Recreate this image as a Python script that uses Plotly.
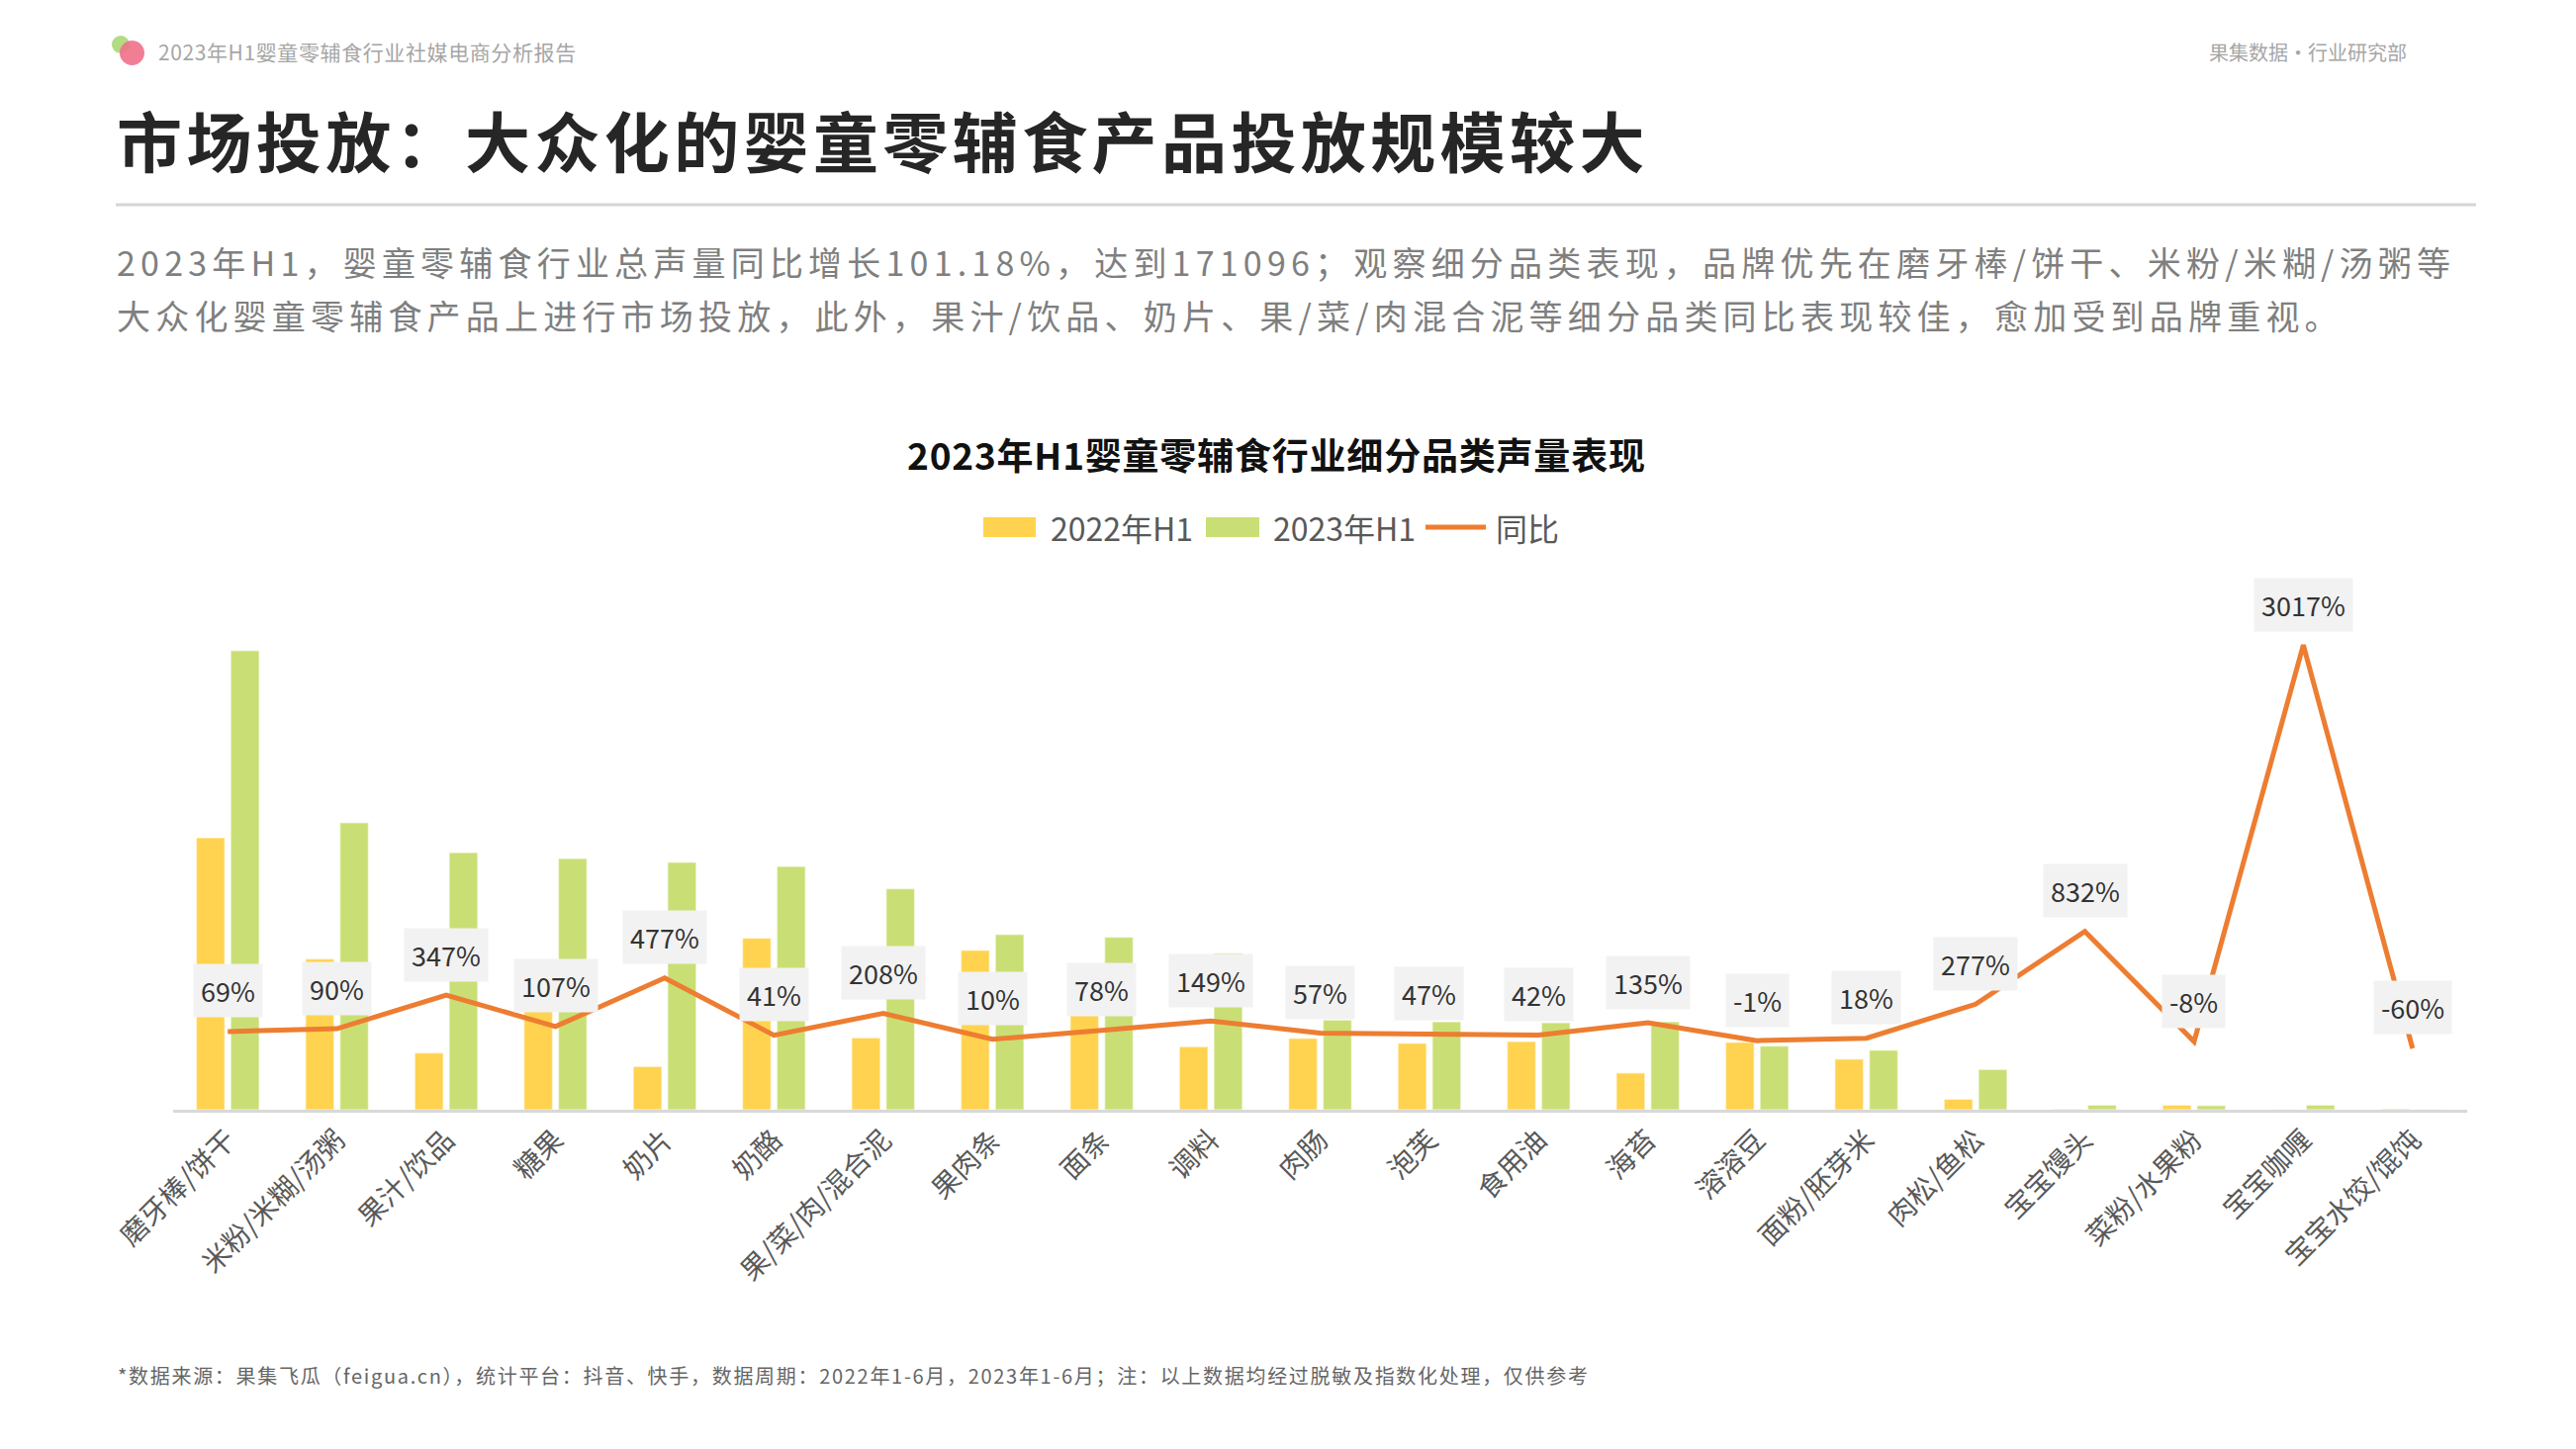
import plotly.graph_objects as go

categories = [
    "磨牙棒/饼干", "米粉/米糊/汤粥", "果汁/饮品", "糖果", "奶片", "奶酪",
    "果/菜/肉/混合泥", "果肉条", "面条", "调料", "肉肠", "泡芙", "食用油",
    "海苔", "溶溶豆", "面粉/胚芽米", "肉松/鱼松", "宝宝馒头", "菜粉/水果粉",
    "宝宝咖喱", "宝宝水饺/馄饨",
]
vol_2022 = [15510, 8610, 3250, 6920, 2465, 9795, 4100, 9100, 5525, 3590, 4080,
            3800, 3890, 2105, 3855, 2895, 600, 28, 265, 8, 40]
vol_2023 = [26190, 16375, 14665, 14325, 14120, 13875, 12615, 10000, 9850, 8930,
            5115, 5020, 4965, 5020, 3645, 3400, 2295, 265, 245, 265, 16]
yoy_pct = [69, 90, 347, 107, 477, 41, 208, 10, 78, 149, 57, 47, 42, 135, -1, 18,
           277, 832, -8, 3017, -60]

header_left = "2023年H1婴童零辅食行业社媒电商分析报告"
header_right = "果集数据·行业研究部"
page_title = "市场投放：大众化的婴童零辅食产品投放规模较大"
summary_lines = [
    "2023年H1，婴童零辅食行业总声量同比增长101.18%，达到171096；观察细分品类表现，品牌优先在磨牙棒/饼干、米粉/米糊/汤粥等",
    "大众化婴童零辅食产品上进行市场投放，此外，果汁/饮品、奶片、果/菜/肉混合泥等细分品类同比表现较佳，愈加受到品牌重视。",
]
chart_title = "2023年H1婴童零辅食行业细分品类声量表现"
series_names = ["2022年H1", "2023年H1", "同比"]
footnote = ("*数据来源：果集飞瓜（feigua.cn），统计平台：抖音、快手，数据周期：2022年1-6月，"
            "2023年1-6月；注：以上数据均经过脱敏及指数化处理，仅供参考")

YELLOW = "#FFD34F"
GREEN = "#C9DF75"
ORANGE = "#ED7D31"
FONT = "Noto Sans CJK SC"

W, H = 2604, 1465
ML, MR, MT, MB = 175, 110, 600, 343
PW, PH = W - ML - MR, H - MT - MB


def xp(px):
    return (px - ML) / PW


def yp(py):
    return (H - MB - py) / PH


def spaced(text, gap):
    return f'<span style="letter-spacing:{gap}px">{text}</span>'


fig = go.Figure()
fig.add_trace(go.Bar(x=categories, y=vol_2022, name=series_names[0],
                     marker={"color": YELLOW, "line": {"color": "rgba(255,255,255,0.5)", "width": 1.5}},
                     showlegend=False))
fig.add_trace(go.Bar(x=categories, y=vol_2023, name=series_names[1],
                     marker={"color": GREEN, "line": {"color": "rgba(255,255,255,0.5)", "width": 1.5}},
                     showlegend=False))
fig.add_trace(go.Scatter(x=categories, y=yoy_pct, name=series_names[2], yaxis="y2",
                         mode="lines", line={"color": ORANGE, "width": 5},
                         showlegend=False))

annotations = []
for cat, val in zip(categories, yoy_pct):
    annotations.append(dict(
        x=cat, y=val, xref="x", yref="y2", text=f"{val}%", showarrow=False,
        yshift=41, bgcolor="#F2F2F2", borderpad=7,
        font={"family": FONT, "size": 27, "color": "#333333"},
    ))

# page header
annotations += [
    dict(x=xp(158), y=yp(52), xref="paper", yref="paper", xanchor="left", yanchor="middle",
         text=spaced(header_left, 0.6), showarrow=False,
         font={"family": FONT, "size": 21, "color": "#A6A6A6"}),
    dict(x=xp(2435), y=yp(52), xref="paper", yref="paper", xanchor="right", yanchor="middle",
         text=header_right, showarrow=False, font={"family": FONT, "size": 20, "color": "#A6A6A6"}),
    dict(x=xp(116), y=yp(140), xref="paper", yref="paper", xanchor="left", yanchor="middle",
         text=spaced(page_title, 4.4), showarrow=False,
         font={"family": FONT, "size": 66, "color": "#262626", "weight": "bold"}),
    dict(x=xp(1290), y=yp(459), xref="paper", yref="paper", xanchor="center", yanchor="middle",
         text=spaced(chart_title, 0.8), showarrow=False,
         font={"family": FONT, "size": 37, "color": "#111111", "weight": "bold"}),
    dict(x=xp(117), y=yp(1390), xref="paper", yref="paper", xanchor="left", yanchor="middle",
         text=spaced(footnote, 1.7), showarrow=False, font={"family": FONT, "size": 20, "color": "#666666"}),
]
for i, line in enumerate(summary_lines):
    annotations.append(dict(
        x=xp(116), y=yp(265 + 53 * i), xref="paper", yref="paper", xanchor="left", yanchor="middle",
        text=spaced(line, 5.2), showarrow=False, font={"family": FONT, "size": 34, "color": "#7F7F7F"},
    ))

# hand-drawn legend
legend_text_x = [1060, 1285, 1510]
for name, tx in zip(series_names, legend_text_x):
    annotations.append(dict(
        x=xp(tx), y=yp(533), xref="paper", yref="paper", xanchor="left", yanchor="middle",
        text=name, showarrow=False, font={"family": FONT, "size": 32, "color": "#595959"},
    ))

shapes = [
    dict(type="line", xref="paper", yref="paper", x0=xp(117), x1=xp(2503), y0=yp(207), y1=yp(207),
         line={"color": "#D6D6D6", "width": 3}),
    dict(type="circle", xref="paper", yref="paper", x0=xp(113), x1=xp(131), y0=yp(36), y1=yp(54),
         fillcolor="#A5D56E", line={"width": 0}, opacity=0.85),
    dict(type="circle", xref="paper", yref="paper", x0=xp(121), x1=xp(146), y0=yp(41), y1=yp(66),
         fillcolor="#F07089", line={"width": 0}, opacity=0.9),
    dict(type="rect", xref="paper", yref="paper", x0=xp(994), x1=xp(1047), y0=yp(523), y1=yp(543),
         fillcolor=YELLOW, line={"width": 0}),
    dict(type="rect", xref="paper", yref="paper", x0=xp(1219), x1=xp(1273), y0=yp(523), y1=yp(543),
         fillcolor=GREEN, line={"width": 0}),
    dict(type="line", xref="paper", yref="paper", x0=xp(1441), x1=xp(1502), y0=yp(533), y1=yp(533),
         line={"color": ORANGE, "width": 5}),
]

fig.update_layout(
    width=W, height=H,
    margin={"l": ML, "r": MR, "t": MT, "b": MB},
    paper_bgcolor="white", plot_bgcolor="white",
    barmode="group", bargap=0.37, bargroupgap=0.17,
    font={"family": FONT},
    xaxis={
        "type": "category", "showline": True, "linecolor": "#D9D9D9", "linewidth": 3,
        "ticks": "", "tickangle": -45, "showgrid": False,
        "tickfont": {"family": FONT, "size": 28, "color": "#595959"},
    },
    yaxis={"range": [0, 29450], "visible": False, "showgrid": False},
    yaxis2={"range": [-528, 3411], "overlaying": "y", "side": "right",
            "visible": False, "showgrid": False},
    annotations=annotations,
    shapes=shapes,
    showlegend=False,
)

fig.write_html("out.html", config={"displayModeBar": False},
               post_script="document.body.style.margin='0';")
